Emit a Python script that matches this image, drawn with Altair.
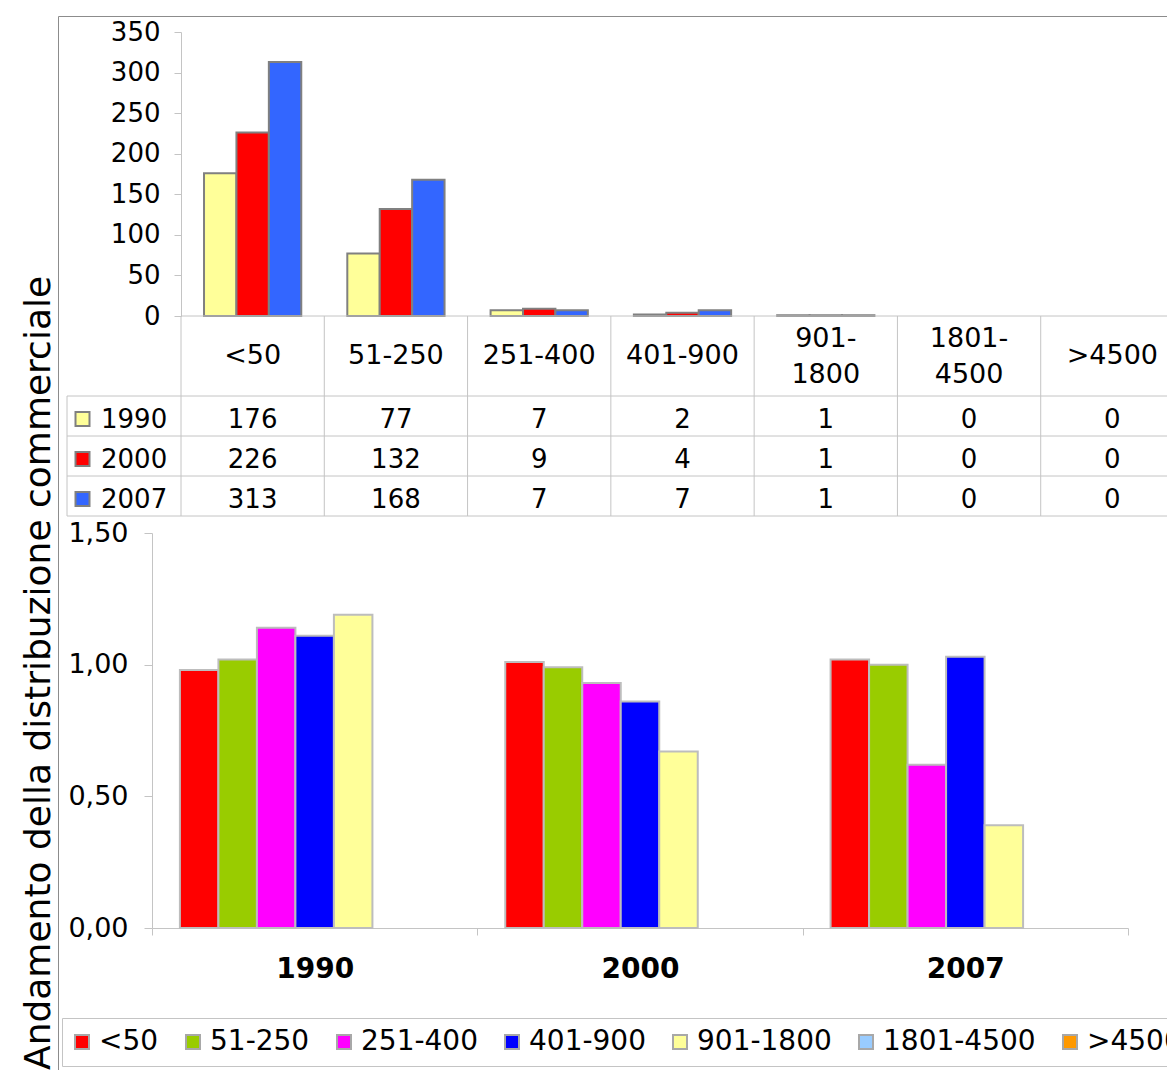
import altair as alt
import pandas as pd

# ---------------- data ----------------
cats = ["<50", "51-250", "251-400", "401-900", "901-1800", "1801-4500", ">4500"]
header_labels = ["<50", "51-250", "251-400", "401-900", "901-\n1800", "1801-\n4500", ">4500"]
years = ["1990", "2000", "2007"]

counts_1990 = [176, 77, 7, 2, 1, 0, 0]
counts_2000 = [226, 132, 9, 4, 1, 0, 0]
counts_2007 = [313, 168, 7, 7, 1, 0, 0]
year_colors = ["#FFFF99", "#FF0000", "#3366FF"]
top_ticks = [0, 50, 100, 150, 200, 250, 300, 350]

ratio_1990 = [0.98, 1.02, 1.14, 1.11, 1.19, 0, 0]
ratio_2000 = [1.01, 0.99, 0.93, 0.86, 0.67, 0, 0]
ratio_2007 = [1.02, 1.00, 0.62, 1.03, 0.39, 0, 0]
cat_colors = ["#FF0000", "#99CC00", "#FF00FF", "#0000FF", "#FFFF99", "#99CCFF", "#FF9900"]
bottom_ticks = [0, 0.5, 1.0, 1.5]

title_text = "Andamento della distribuzione commerciale"

# ---------------- layout ----------------
W, H = 1109, 1054
FONT = "DejaVu Sans"
GRID = "#C4C4C4"

top_rows = []
for y, vals in zip(years, [counts_1990, counts_2000, counts_2007]):
    for c, v in zip(cats, vals):
        top_rows.append({"cat": c, "year": y, "value": v})
top_df = pd.DataFrame(top_rows)

bot_rows = []
for y, vals in zip(years, [ratio_1990, ratio_2000, ratio_2007]):
    for c, v in zip(cats, vals):
        bot_rows.append({"year": y, "cat": c, "value": v})
bot_df = pd.DataFrame(bot_rows)

row_domain = ["h1", "h2"] + years + ["_end"]


def cat_scale():
    return alt.Scale(type="band", domain=cats, range=[123, 1126], paddingInner=0, paddingOuter=0)


def row_scale():
    return alt.Scale(type="band", domain=row_domain, range=[300, 540], paddingInner=0, paddingOuter=0)


def year_color():
    return alt.Scale(domain=years, range=year_colors)


# top chart bars
top_bars = alt.Chart(top_df).transform_filter("datum.value > 0").mark_bar(
    stroke="#808080", strokeWidth=2
).encode(
    x=alt.X("cat:N", scale=cat_scale(), axis=None),
    xOffset=alt.XOffset("year:N", scale=alt.Scale(domain=years, paddingInner=0, paddingOuter=0.71)),
    y=alt.Y(
        "value:Q",
        scale=alt.Scale(domain=[0, 350], range=[300, 16], nice=False),
        axis=alt.Axis(
            orient="left", offset=-123, values=top_ticks, title=None,
            labelFontSize=26, labelFont=FONT, labelColor="black",
            tickSize=7, labelPadding=14, domainColor=GRID, tickColor=GRID,
            grid=False, labelOverlap=False,
        ),
    ),
    color=alt.Color("year:N", scale=year_color(), legend=None),
)

# table vertical lines
vl_df = pd.DataFrame({"cat": cats, "r0": ["h1"] * len(cats), "r1": ["_end"] * len(cats)})
vlines = alt.Chart(vl_df).mark_rule(color=GRID, strokeWidth=1).encode(
    x=alt.X("cat:N", scale=cat_scale(), axis=None, bandPosition=0),
    y=alt.Y("r0:N", scale=row_scale(), axis=None, bandPosition=0),
    y2=alt.Y2("r1", bandPosition=0),
)

# table top line (chart baseline)
tl_df = pd.DataFrame({"row": ["h1"], "c0": [cats[0]]})
top_line = alt.Chart(tl_df).mark_rule(color=GRID, strokeWidth=1).encode(
    y=alt.Y("row:N", scale=row_scale(), axis=None, bandPosition=0),
    x=alt.X("c0:N", scale=cat_scale(), axis=None, bandPosition=0),
    x2=alt.value(W),
)

# table horizontal lines
hl_df = pd.DataFrame({"row": years + ["_end"]})
hlines = alt.Chart(hl_df).mark_rule(color=GRID, strokeWidth=1).encode(
    y=alt.Y("row:N", scale=row_scale(), axis=None, bandPosition=0),
    x=alt.value(9),
    x2=alt.value(W),
)

# table left border of the row-label column
lv_df = pd.DataFrame({"r0": [years[0]], "r1": ["_end"]})
left_vline = alt.Chart(lv_df).mark_rule(color=GRID, strokeWidth=1).encode(
    x=alt.value(9),
    y=alt.Y("r0:N", scale=row_scale(), axis=None, bandPosition=0),
    y2=alt.Y2("r1", bandPosition=0),
)

# header labels (single-line and two-line)
hd_df = pd.DataFrame({"cat": cats, "label": header_labels,
                      "r_one": ["h2"] * len(cats), "r_two": ["h1"] * len(cats)})
hdr_base = alt.Chart(hd_df).mark_text(
    font=FONT, fontSize=27, color="black", align="center", baseline="middle",
    lineBreak="\n", lineHeight=35.5,
)
hdr_one = hdr_base.transform_filter("indexof(datum.label, '\\n') < 0").encode(
    x=alt.X("cat:N", scale=cat_scale(), axis=None),
    y=alt.Y("r_one:N", scale=row_scale(), axis=None, bandPosition=0),
    text="label:N",
)
hdr_two = hdr_base.transform_filter("indexof(datum.label, '\\n') >= 0").encode(
    x=alt.X("cat:N", scale=cat_scale(), axis=None),
    y=alt.Y("r_two:N", scale=row_scale(), axis=None, bandPosition=0.585),
    text="label:N",
)

# table values
val_text = alt.Chart(top_df).mark_text(
    font=FONT, fontSize=26, color="black", align="center", baseline="middle"
).encode(
    x=alt.X("cat:N", scale=cat_scale(), axis=None),
    y=alt.Y("year:N", scale=row_scale(), axis=None, bandPosition=0.59),
    text="value:Q",
)

# row label swatches and names
rl_df = pd.DataFrame({"year": years})
swatches = alt.Chart(rl_df).mark_square(
    size=196, stroke="#808080", strokeWidth=2, opacity=1
).encode(
    x=alt.value(24.5),
    y=alt.Y("year:N", scale=row_scale(), axis=None, bandPosition=0.575),
    color=alt.Color("year:N", scale=year_color(), legend=None),
)
row_labels = alt.Chart(rl_df).mark_text(
    font=FONT, fontSize=26, color="black", align="left", baseline="middle"
).encode(
    x=alt.value(43),
    y=alt.Y("year:N", scale=row_scale(), axis=None, bandPosition=0.59),
    text="year:N",
)

# bottom chart
bottom_bars = alt.Chart(bot_df).transform_filter("datum.value > 0").mark_bar(
    stroke="#BDBDBD", strokeWidth=2
).encode(
    x=alt.X(
        "year:N",
        scale=alt.Scale(type="band", domain=years, range=[94, 1070], paddingInner=0, paddingOuter=0),
        axis=alt.Axis(
            orient="bottom", offset=912 - H, tickBand="extent", title=None, labelAngle=0,
            labelFontSize=28, labelFont=FONT, labelFontWeight="bold", labelColor="black",
            tickSize=7, labelPadding=20, domainColor=GRID, tickColor=GRID, grid=False,
        ),
    ),
    xOffset=alt.XOffset("cat:N", scale=alt.Scale(domain=cats, paddingInner=0, paddingOuter=0.725)),
    y=alt.Y(
        "value:Q",
        scale=alt.Scale(domain=[0, 1.5], range=[912, 517], nice=False),
        axis=alt.Axis(
            orient="left", offset=-94, values=bottom_ticks, title=None,
            labelExpr="replace(format(datum.value, '.2f'), '.', ',')",
            labelFontSize=27, labelFont=FONT, labelColor="black",
            tickSize=8, labelPadding=16, domainColor=GRID, tickColor=GRID,
            grid=False, labelOverlap=False,
        ),
    ),
    color=alt.Color(
        "cat:N",
        scale=alt.Scale(domain=cats, range=cat_colors),
        legend=alt.Legend(
            orient="none", legendX=4, legendY=1002, direction="horizontal", columns=7,
            title=None, labelFontSize=28, labelFont=FONT, labelColor="black",
            symbolType="square", symbolSize=196, symbolStrokeColor="#A8A8A8",
            symbolStrokeWidth=2, symbolOffset=-4, labelOffset=3, columnPadding=23,
            padding=10, strokeColor=GRID, fillColor="white", labelLimit=400,
        ),
    ),
)

chart = alt.layer(
    top_bars, vlines, top_line, hlines, left_vline, hdr_one, hdr_two, val_text,
    swatches, row_labels, bottom_bars,
).resolve_scale(
    x="independent", y="independent", xOffset="independent", color="independent"
).resolve_axis(
    x="independent", y="independent"
).resolve_legend(
    color="independent"
).properties(
    width=W,
    height=H,
    autosize=alt.AutoSizeParams(type="none"),
    padding={"left": 50, "top": 8, "right": 0, "bottom": 0},
    title=alt.Title(
        title_text, orient="left", anchor="start", fontSize=36, fontWeight="normal",
        font=FONT, color="black", offset=0,
    ),
).configure_view(
    stroke="#8C8C8C", strokeWidth=1
)

chart.save("out.html", embed_options={"renderer": "svg", "actions": False})
